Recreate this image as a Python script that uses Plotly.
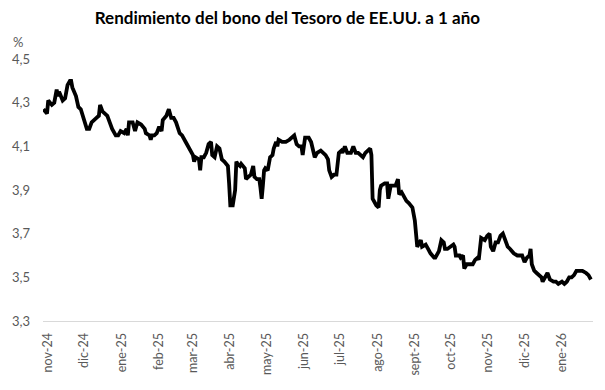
import plotly.graph_objects as go

dates = [
"2024-10-28","2024-10-31","2024-11-01","2024-11-04","2024-11-06","2024-11-08","2024-11-09","2024-11-10",
"2024-11-13","2024-11-15","2024-11-17","2024-11-19","2024-11-20","2024-11-21","2024-11-24","2024-11-26",
"2024-11-28","2024-12-01","2024-12-03","2024-12-05","2024-12-07","2024-12-11","2024-12-13","2024-12-14",
"2024-12-16","2024-12-18","2024-12-20","2024-12-22","2024-12-24","2024-12-27","2024-12-29","2024-12-31",
"2025-01-03","2025-01-05","2025-01-06","2025-01-07","2025-01-10","2025-01-12","2025-01-14","2025-01-17",
"2025-01-20","2025-01-21","2025-01-24","2025-01-25","2025-01-26","2025-01-28","2025-01-30","2025-02-01",
"2025-02-03","2025-02-04","2025-02-07","2025-02-09","2025-02-11","2025-02-13","2025-02-15","2025-02-18",
"2025-02-20","2025-02-23","2025-02-25","2025-02-27","2025-03-01","2025-03-02","2025-03-03","2025-03-06",
"2025-03-07","2025-03-08","2025-03-10","2025-03-12","2025-03-14","2025-03-16","2025-03-17","2025-03-19",
"2025-03-21","2025-03-23","2025-03-25","2025-03-27","2025-03-29","2025-03-30","2025-03-31","2025-04-01",
"2025-04-03","2025-04-05","2025-04-06","2025-04-07","2025-04-09","2025-04-10","2025-04-13","2025-04-14",
"2025-04-16","2025-04-18","2025-04-20","2025-04-21","2025-04-23","2025-04-25","2025-04-26","2025-04-27",
"2025-04-28","2025-04-29","2025-04-30","2025-05-02","2025-05-04","2025-05-06","2025-05-07","2025-05-09",
"2025-05-10","2025-05-11","2025-05-14","2025-05-17","2025-05-20","2025-05-22","2025-05-24","2025-05-26",
"2025-05-28","2025-05-30","2025-05-31","2025-06-02","2025-06-05","2025-06-07","2025-06-09","2025-06-10",
"2025-06-12","2025-06-15","2025-06-17","2025-06-19","2025-06-21","2025-06-22","2025-06-24","2025-06-26",
"2025-06-28","2025-06-29","2025-06-30","2025-07-02","2025-07-03","2025-07-05","2025-07-07","2025-07-09",
"2025-07-10","2025-07-12","2025-07-14","2025-07-16","2025-07-18","2025-07-20","2025-07-22","2025-07-24",
"2025-07-26","2025-07-27","2025-07-28","2025-07-31","2025-08-02","2025-08-03","2025-08-04","2025-08-07",
"2025-08-09","2025-08-10","2025-08-12","2025-08-14","2025-08-16","2025-08-18","2025-08-19","2025-08-21",
"2025-08-23","2025-08-25","2025-08-27","2025-08-30","2025-09-01","2025-09-02","2025-09-03","2025-09-05",
"2025-09-06","2025-09-07","2025-09-10","2025-09-12","2025-09-14","2025-09-17","2025-09-18","2025-09-21",
"2025-09-23","2025-09-25","2025-09-26","2025-09-28","2025-10-01","2025-10-03","2025-10-04","2025-10-05",
"2025-10-08","2025-10-09","2025-10-11","2025-10-12","2025-10-14","2025-10-16","2025-10-19","2025-10-21",
"2025-10-23","2025-10-24","2025-10-25","2025-10-26","2025-10-29","2025-10-31","2025-11-02","2025-11-03",
"2025-11-05","2025-11-07","2025-11-09","2025-11-11","2025-11-13","2025-11-15","2025-11-17","2025-11-19",
"2025-11-22","2025-11-25","2025-11-27","2025-11-29","2025-12-01","2025-12-03","2025-12-05","2025-12-06",
"2025-12-07","2025-12-09","2025-12-11","2025-12-13","2025-12-15","2025-12-16","2025-12-18","2025-12-20",
"2025-12-22","2025-12-25","2025-12-27","2025-12-29","2026-01-01","2026-01-03","2026-01-05","2026-01-07",
"2026-01-09","2026-01-11","2026-01-13","2026-01-16","2026-01-18","2026-01-21","2026-01-23","2026-01-25",
]

yields = [
4.27,4.25,4.31,4.29,4.30,4.36,4.33,4.35,
4.31,4.32,4.38,4.40,4.40,4.37,4.33,4.28,
4.27,4.22,4.18,4.18,4.21,4.23,4.24,4.29,
4.26,4.25,4.24,4.21,4.18,4.15,4.15,4.17,
4.16,4.18,4.15,4.21,4.21,4.17,4.21,4.20,
4.18,4.16,4.15,4.13,4.15,4.15,4.16,4.19,
4.17,4.22,4.24,4.27,4.23,4.23,4.21,4.16,
4.15,4.12,4.10,4.08,4.06,4.03,4.05,4.04,
3.99,4.05,4.05,4.07,4.11,4.12,4.06,4.05,
4.10,4.09,4.04,4.03,4.02,4.01,3.93,3.83,
3.83,3.90,4.03,4.02,4.01,4.02,4.00,3.95,
3.96,3.97,4.01,3.96,3.95,3.95,3.91,3.86,
3.92,3.99,4.00,3.99,4.05,4.06,4.09,4.12,
4.10,4.13,4.12,4.12,4.13,4.14,4.15,4.11,
4.10,4.10,4.06,4.14,4.14,4.12,4.07,4.05,
4.07,4.08,4.07,4.06,4.04,3.99,3.96,3.97,
3.97,4.04,4.07,4.08,4.07,4.10,4.07,4.07,
4.07,4.10,4.07,4.07,4.06,4.05,4.07,4.08,
4.09,4.06,3.86,3.83,3.82,3.90,3.92,3.93,
3.93,3.86,3.92,3.92,3.92,3.95,3.88,3.89,
3.87,3.85,3.84,3.82,3.76,3.69,3.64,3.66,
3.67,3.64,3.65,3.63,3.61,3.59,3.59,3.62,
3.67,3.66,3.63,3.63,3.64,3.65,3.64,3.60,
3.60,3.59,3.60,3.54,3.56,3.56,3.56,3.58,
3.59,3.58,3.62,3.68,3.67,3.69,3.70,3.64,
3.62,3.66,3.66,3.69,3.70,3.67,3.64,3.63,
3.61,3.60,3.60,3.60,3.57,3.59,3.60,3.63,
3.56,3.53,3.52,3.51,3.50,3.48,3.50,3.52,
3.49,3.48,3.48,3.47,3.48,3.47,3.48,3.50,
3.50,3.51,3.53,3.53,3.53,3.52,3.51,3.49,
]

tick_dates = ["2024-11-01","2024-12-01","2025-01-01","2025-02-01","2025-03-01","2025-04-01",
              "2025-05-01","2025-06-01","2025-07-01","2025-08-01","2025-09-01","2025-10-01",
              "2025-11-01","2025-12-01","2026-01-01"]
tick_labels = ["nov-24","dic-24","ene-25","feb-25","mar-25","abr-25","may-25","jun-25",
               "jul-25","ago-25","sept-25","oct-25","nov-25","dic-25","ene-26"]

title_text = "Rendimiento del bono del Tesoro de EE.UU. a 1 año"
unit_text = "%"

fig = go.Figure()
fig.add_trace(go.Scatter(x=dates, y=yields, mode="lines",
                         line=dict(color="#000000", width=3.8), showlegend=False))

font_family = "Lato, 'Open Sans', sans-serif"

fig.update_layout(
    width=605, height=390,
    margin=dict(l=38, r=12, t=59, b=69),
    paper_bgcolor="white", plot_bgcolor="white",
    separators=",.",
    font=dict(family=font_family, color="#595959", size=13),
    title=dict(text="<b>" + title_text + "</b>", x=0.475, xanchor="center",
               y=0.953, yanchor="middle",
               font=dict(family=font_family, size=17, color="#000000")),
    xaxis=dict(
        type="date",
        range=["2024-10-27 16:00", "2026-01-26 18:00"],
        tickvals=tick_dates, ticktext=tick_labels, tickangle=-90,
        showgrid=False, zeroline=False,
        showline=True, linecolor="#d9d9d9", linewidth=1,
        ticks="", ticklabelstandoff=6,
        tickfont=dict(size=12.5, color="#595959"),
    ),
    yaxis=dict(
        range=[3.3, 4.5], tick0=3.3, dtick=0.2, tickformat=".1f",
        showgrid=False, zeroline=False, showline=False, ticks="",
        ticklabelstandoff=12,
        tickfont=dict(size=13, color="#595959"),
    ),
    annotations=[dict(text=unit_text, xref="paper", yref="paper",
                      x=-0.045, y=1.065, xanchor="center", yanchor="middle",
                      showarrow=False, font=dict(size=13, color="#595959"))],
)

fig.write_html("out.html", config={"displayModeBar": False},
               post_script="document.body.style.margin='0';document.body.style.padding='0';")
